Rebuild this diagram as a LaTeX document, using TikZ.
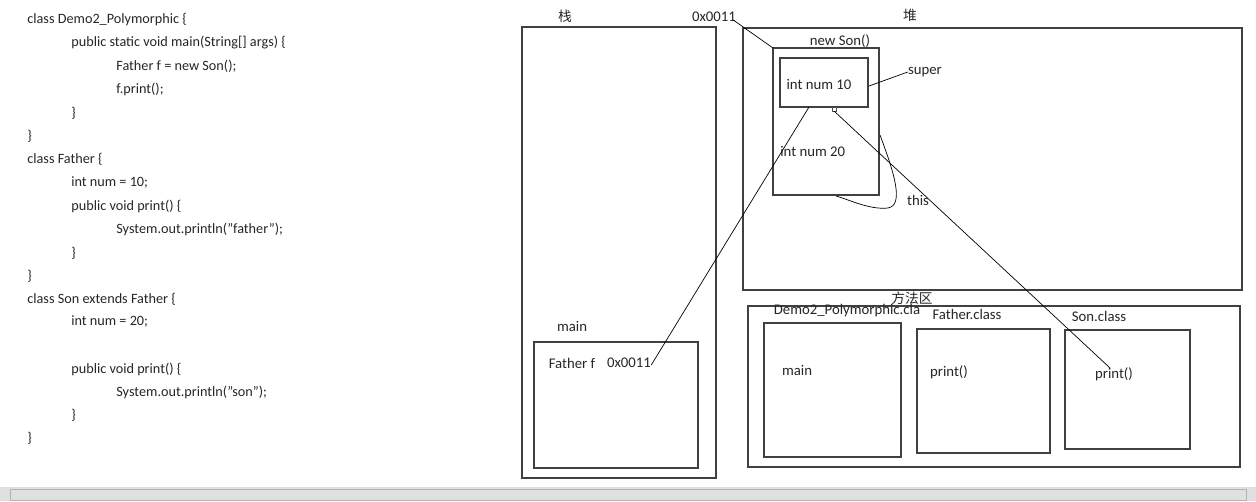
\documentclass[tikz,border=0pt]{standalone}
\usepackage{fontspec}
\setmainfont{Carlito}
\newfontfamily\cjk{Noto Sans CJK SC}
\begin{document}
\begin{tikzpicture}[x=0.02cm,y=-0.02cm,
  code/.style={anchor=west,inner sep=0pt,font=\fontsize{8.1}{10}\selectfont,text=black!85},
  lbl/.style={inner sep=0pt,font=\fontsize{8.4}{10}\selectfont,text=black!85},
  cjklbl/.style={inner sep=0pt,font=\cjk\fontsize{7.8}{9}\selectfont,text=black!85},
  box/.style={draw=black!75,line width=0.8pt},
  wire/.style={draw=black,line width=0.4pt}]
\useasboundingbox (0,0) rectangle (1256,501);
% code
\node[code] (c1) at (27,19) {class Demo2\_Polymorphic \{};
\node[code] (c2) at (71,43) {public static void main(String[] args) \{};
\node[code] (c3) at (116,66) {Father f = new Son();};
\node[code] (c4) at (116,89) {f.print();};
\node[code] (c5) at (71,113) {\}};
\node[code] (c6) at (27,136) {\}};
\node[code] (c7) at (27,159) {class Father \{};
\node[code] (c8) at (71,183) {int num = 10;};
\node[code] (c9) at (71,206) {public void print() \{};
\node[code] (c10) at (116,229) {System.out.println("father");};
\node[code] (c11) at (71,253) {\}};
\node[code] (c12) at (27,276) {\}};
\node[code] (c13) at (27,299) {class Son extends Father \{};
\node[code] (c14) at (71,322) {int num = 20;};
\node[code] (c15) at (71,369) {public void print() \{};
\node[code] (c16) at (116,392) {System.out.println("son");};
\node[code] (c17) at (71,415) {\}};
\node[code] (c18) at (27,438) {\}};
% stack
\draw[box] (522,27) rectangle (716,478);
\node[cjklbl] (zhan) at (565,16) {栈};
\node[lbl] (haddr) at (714,17) {0x0011};
\node[lbl] (mainlbl) at (572,326) {main};
\draw[box] (534,342) rectangle (698,468);
\node[lbl] (ff) at (572,363) {Father f};
\node[lbl] (faddr) at (629,363) {0x0011};
% heap
\draw[box] (743,28) rectangle (1242,290);
\node[cjklbl] (dui) at (910,15) {堆};
\node[lbl] (newson) at (840,41) {new Son()};
\draw[box] (773,48) rectangle (879,195);
\coordinate (objtl) at (773,48);
\coordinate (objr) at (880,135);
\coordinate (objb) at (836,196);
\draw[box] (780,58) rectangle (868,107);
\coordinate (innerb) at (809,107);
\coordinate (innerr) at (869,86);
\node[lbl] (n10) at (819,84) {int num 10};
\node[lbl,anchor=west] (n20) at (780,151) {int num 20};
\node[lbl] (super) at (925,72) {super};
\node[lbl] (this) at (918,200) {this};
\draw[black!70,line width=0.5pt] (832,107) rectangle (836,111);
\coordinate (sq) at (834,111);
% method area
\node[cjklbl] (ffq) at (912,298) {方法区};
\draw[box] (748,306) rectangle (1240,467);
\node[lbl] (dlbl) at (847,311) {Demo2\_Polymorphic.cla};
\draw[box] (764,323) rectangle (901,457);
\node[lbl] (dmain) at (797,370) {main};
\node[lbl] (flbl) at (967,314) {Father.class};
\draw[box] (917,329) rectangle (1050,453);
\node[lbl] (fprint) at (949,372) {print()};
\node[lbl] (slbl) at (1099,316) {Son.class};
\draw[box] (1065,330) rectangle (1190,449);
\node[lbl] (sprint) at (1114,374) {print()};
\coordinate (sp) at (1110,368);
% connectors
\draw[wire] (haddr.east) ++(-3,3) -- (objtl);
\draw[wire] (faddr.east) ++(0,2) -- (innerb);
\draw[wire] (innerr) -- (super.west);
\draw[wire] (sq) -- (sp);
\draw[wire] (objr) .. controls (893,170) and (905,205) .. (888,208) .. controls (870,210) and (850,200) .. (objb);
% scrollbar
\fill[black!12] (0,487) rectangle (1256,501);
\draw[black!30] (10,489) rectangle (1246,500);
\end{tikzpicture}
\end{document}
